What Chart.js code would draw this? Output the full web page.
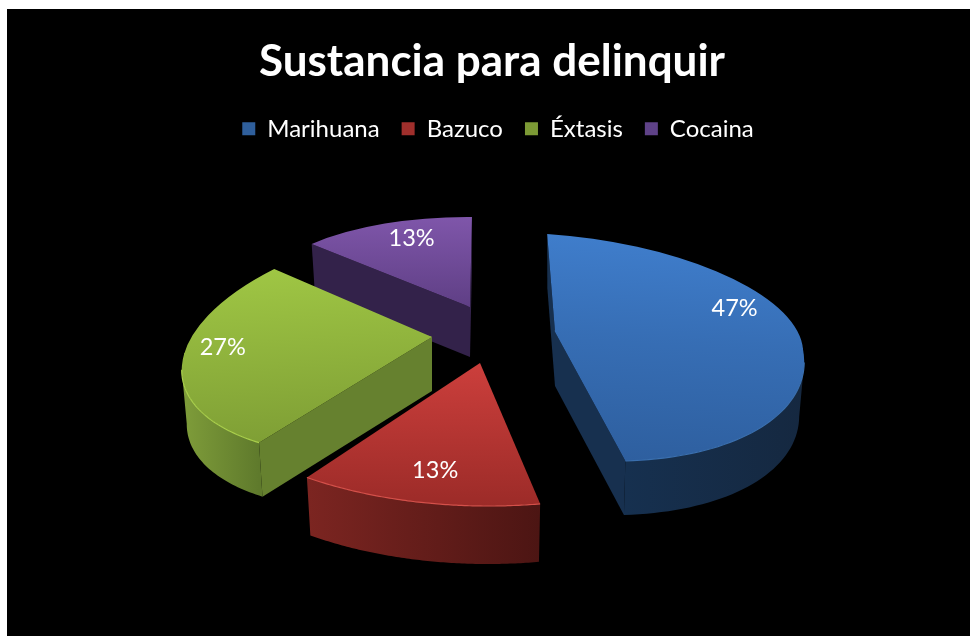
<!DOCTYPE html>
<html><head><meta charset="utf-8">
<style>
html,body{margin:0;padding:0;background:#fff;overflow:hidden}
#bg{position:absolute;left:7px;top:9px;background:#000;width:963px;height:627px}
canvas{position:absolute;left:0;top:0}
</style>
<script src="https://cdn.jsdelivr.net/npm/chart.js@4/dist/chart.umd.min.js"></script>
</head><body><div id="bg"></div><canvas id="c" width="970" height="636"></canvas>
<script>
const titleText = 'Sustancia para delinquir';
const categories = ['Marihuana','Bazuco','Éxtasis','Cocaina'];
const values = [47,13,27,13];
const legendColors = ['#2f5f9c','#a02f2c','#7c9a35','#5f4288'];
const topColors = [['#3f7dcb','#2e5f9f'],['#cc3f3c','#9c2b28'],['#9fc644','#7f9f35'],['#7f56aa','#5f3f85']];
const wallColors = [['#16304f','#152840'],['#7c2521','#4c1513'],['#7f9d3a','#5f7a2c'],['#33224a','#33224a']];
const cutColors = ['#17304f','#5a1a18','#66812f','#33224a'];
const rimColors = ['#3a6fae','#d4504a','#a9cf4c','#7f56aa'];

// Projection of each flat slice: shift from the pie centre, radii, shear.
const pieCentre = [490,337];
const views = [
  {shift:[65,-5], rx:248, up:98,  down:128, kUp:.08,  kDown:.19,  j:.07,  depth:54},
  {shift:[-10,26],rx:300, up:143, down:143, kUp:.028, kDown:.028, j:.007, depth:58},
  {shift:[-58,0], rx:248, up:118, down:118, kUp:-.285,kDown:-.285,j:-.07, depth:54},
  {shift:[-20,-30],rx:219,up:90,  down:90,  kUp:-.022,kDown:-.022,j:.009, depth:50}
];
const labelAngles = [63,192,272.6,340];
const labelRadii = [.826,.767,.85,.8];
const drawOrder = [3,2,0,1];

function toScreen(i,u,v){
  const w = views[i], ry = v<0?w.up:w.down, k = v<0?w.kUp:w.kDown;
  const ax = pieCentre[0]+w.shift[0], ay = pieCentre[1]+w.shift[1];
  return [ax + w.rx*u + k*ry*v, ay + ry*v + w.j*w.rx*u];
}
function halfMatrix(i,lower,el){
  const w = views[i], R = el.outerRadius, ry = lower?w.down:w.up, k = lower?w.kDown:w.kUp;
  const ax = pieCentre[0]+w.shift[0], ay = pieCentre[1]+w.shift[1];
  const a = w.rx/R, b = w.j*w.rx/R, c = k*ry/R, d = ry/R;
  return [a,b,c,d, ax-a*el.x-c*el.y, ay-b*el.x-d*el.y];
}
function fill(ctx,pts,style){
  ctx.beginPath(); pts.forEach((p,n)=>n?ctx.lineTo(p[0],p[1]):ctx.moveTo(p[0],p[1]));
  ctx.closePath(); ctx.fillStyle=style; ctx.fill();
}
function drawWalls(ctx,i,el){
  const w = views[i], apex = toScreen(i,0,0);
  const low = p => [apex[0]+(p[0]-apex[0])*.98, p[1]+w.depth];
  const n = 90, arc = [];
  for(let s=0;s<=n;s++){
    const a = el.startAngle+(el.endAngle-el.startAngle)*s/n;
    arc.push(toScreen(i,Math.cos(a),Math.sin(a)));
  }
  const cut = (p,q)=>{ if(q[0]<p[0]) fill(ctx,[p,q,low(q),low(p)],cutColors[i]); };
  cut(apex,arc[0]); cut(arc[n],apex);
  const run = [];
  for(let s=0;s<n;s++){ if(arc[s+1][0]<arc[s][0]){ if(!run.length) run.push(arc[s]); run.push(arc[s+1]); } }
  if(run.length>1){
    const xs = run.map(p=>p[0]);
    const g = ctx.createLinearGradient(Math.min(...xs),0,Math.max(...xs),0);
    g.addColorStop(0,wallColors[i][0]); g.addColorStop(1,wallColors[i][1]);
    fill(ctx,run.concat(run.map(low).reverse()),g);
  }
  return run;
}
function drawTop(ctx,i,el){
  [true,false].forEach(lower=>{
    ctx.save();
    ctx.transform(...halfMatrix(i,lower,el));
    ctx.beginPath();
    const R = el.outerRadius+4;
    // the lower half runs past the centre line so no seam shows between the halves
    if(lower) ctx.rect(el.x-R,el.y-3,2*R,R+3); else ctx.rect(el.x-R,el.y-R,2*R,R);
    ctx.clip();
    el.draw(ctx);
    ctx.restore();
  });
}
const pie3d = {
  id:'pie3d',
  afterLayout(chart){ chart.legend.left += 12; },
  beforeDatasetsDraw(chart){
    const ctx = chart.ctx, arcs = chart.getDatasetMeta(0).data;
    drawOrder.forEach(i=>{
      const el = arcs[i];
      const run = drawWalls(ctx,i,el);
      drawTop(ctx,i,el);
      if(run.length>1){
        ctx.beginPath(); run.forEach((p,n)=>n?ctx.lineTo(p[0],p[1]):ctx.moveTo(p[0],p[1]));
        ctx.strokeStyle=rimColors[i]; ctx.lineWidth=1.2; ctx.stroke();
      }
    });
    const total = values.reduce((s,v)=>s+v,0);
    ctx.save();
    ctx.font='23.5px Lato'; ctx.fillStyle='#fff'; ctx.textAlign='center'; ctx.textBaseline='middle';
    values.forEach((v,i)=>{
      const a = labelAngles[i]*Math.PI/180, r = labelRadii[i];
      const p = toScreen(i,r*Math.sin(a),-r*Math.cos(a));
      ctx.fillText(Math.round(v/total*100)+'%',p[0],p[1]);
    });
    ctx.restore();
    return false;
  }
};
function topFill(context){
  const i = context.dataIndex, chart = context.chart, area = chart.chartArea;
  if(!area || i===undefined) return topColors[i||0][0];
  const total = values.reduce((s,v)=>s+v,0);
  const before = values.slice(0,i).reduce((s,v)=>s+v,0);
  let lo = 0, hi = 0;
  for(let s=0;s<=40;s++){
    const t = (before+values[i]*s/40)/total*2*Math.PI;
    const y = -Math.cos(t); lo = Math.min(lo,y); hi = Math.max(hi,y);
  }
  const cy = (area.top+area.bottom)/2, R = Math.min(area.right-area.left,area.bottom-area.top)/2;
  const g = chart.ctx.createLinearGradient(0,cy+lo*R,0,cy+hi*R);
  g.addColorStop(0,topColors[i][0]); g.addColorStop(1,topColors[i][1]);
  return g;
}
new Chart(document.getElementById('c'),{
  type:'pie',
  data:{labels:categories,datasets:[{data:values,backgroundColor:topFill,borderWidth:0,hoverOffset:0}]},
  plugins:[pie3d],
  options:{
    responsive:false,animation:false,devicePixelRatio:1,
    layout:{padding:{left:14,top:35,bottom:10}},
    events:[],
    plugins:{
      tooltip:{enabled:false},
      title:{display:true,text:titleText,color:'#fff',font:{family:'Lato',size:44,weight:'bold'},padding:{top:0,bottom:7}},
      legend:{position:'top',labels:{
        color:'#fff',font:{family:'Lato',size:24},boxWidth:13,boxHeight:13,padding:22,
        generateLabels(chart){
          return categories.map((t,i)=>({text:t,fillStyle:legendColors[i],strokeStyle:legendColors[i],lineWidth:0,fontColor:'#fff',index:i,hidden:false}));
        }
      }}
    }
  }
});
</script></body></html>
